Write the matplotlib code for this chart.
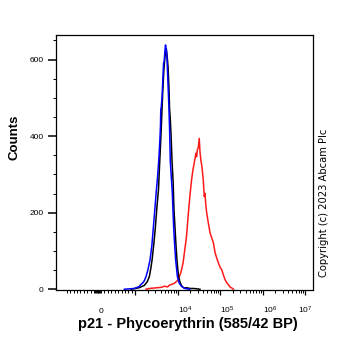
import numpy as np
import matplotlib.pyplot as plt
from matplotlib.transforms import ScaledTranslation

plt.rcParams['font.family'] = 'Liberation Sans'
plt.rcParams['mathtext.fontset'] = 'custom'
plt.rcParams['mathtext.rm'] = 'Liberation Sans'
plt.rcParams['mathtext.it'] = 'Liberation Sans:italic'
plt.rcParams['mathtext.bf'] = 'Liberation Sans:bold'

# intenzita PE kanalu v log10 jednotkach a pocty udalosti
blue_log = [2.836, 2.987, 3.048, 3.095, 3.131, 3.174, 3.214, 3.255, 3.298, 3.350,
            3.393, 3.429, 3.464, 3.493, 3.524, 3.555, 3.579, 3.595, 3.602, 3.612,
            3.631, 3.650, 3.667, 3.683, 3.698, 3.714, 3.731, 3.745, 3.769, 3.793,
            3.810, 3.826, 3.840, 3.874, 3.905, 3.929, 3.952, 3.993, 4.036, 4.088,
            4.167, 4.286]
blue_counts = [0, 2, 5, 7, 12, 16, 22, 33, 50, 77,
               115, 163, 210, 251, 290, 337, 385, 425, 470, 474,
               500, 545, 590, 595, 620, 638, 625, 610, 546, 477,
               416, 335, 310, 251, 163, 115, 77, 33, 16, 8,
               2, 0]

black_log = [2.947, 3.095, 3.214, 3.286, 3.333, 3.369, 3.398, 3.440, 3.476, 3.512,
             3.548, 3.579, 3.602, 3.626, 3.650, 3.674, 3.698, 3.719, 3.733, 3.755,
             3.774, 3.793, 3.810, 3.826, 3.845, 3.869, 3.893, 3.912, 3.936, 3.960,
             3.983, 4.005, 4.024, 4.055, 4.088, 4.119, 4.167, 4.214, 4.286, 4.381,
             4.524]
black_counts = [0, 4, 10, 20, 33, 55, 77, 120, 163, 215,
                260, 337, 390, 455, 520, 570, 605, 620, 628, 605,
                580, 530, 470, 445, 400, 330, 280, 210, 163, 115,
                77, 50, 33, 18, 10, 5, 3, 4, 2, 2,
                0]

red_log = [3.255, 3.333, 3.429, 3.524, 3.619, 3.690, 3.762, 3.810, 3.869, 3.929,
           4.007, 4.071, 4.126, 4.167, 4.207, 4.245, 4.286, 4.326, 4.357, 4.388,
           4.405, 4.429, 4.445, 4.464, 4.483, 4.507, 4.524, 4.548, 4.571, 4.602,
           4.626, 4.643, 4.662, 4.683, 4.721, 4.762, 4.798, 4.840, 4.881, 4.917,
           4.960, 5.000, 5.040, 5.079, 5.119, 5.160, 5.198, 5.238, 5.279, 5.310]
red_counts = [0, 2, 3, 4, 5, 8, 6, 11, 13, 16,
              24, 42, 68, 103, 137, 190, 242, 285, 310, 329,
              340, 355, 346, 365, 369, 394, 360, 335, 320, 285,
              242, 250, 220, 199, 173, 147, 135, 121, 95, 82,
              68, 57, 50, 36, 24, 16, 11, 5, 3, 0]

x_major = [0, 1e4, 1e5, 1e6, 1e7]
x_labels = ['0', '$10^{4}$', '$10^{5}$', '$10^{6}$', '$10^{7}$']

fig = plt.figure(figsize=(3.62, 3.51), dpi=100)
ax = fig.add_axes([56 / 362, 1 - 290 / 351, 256.5 / 362, 255 / 351])

ax.plot(10 ** np.array(red_log), red_counts, color='#ff1a1a', lw=1.1)
ax.plot(10 ** np.array(black_log), black_counts, color='black', lw=1.1)
ax.plot(10 ** np.array(blue_log), blue_counts, color='#0000ff', lw=1.1)

# logicle osa -> priblizne pres symlog
ax.set_xscale('symlog', linthresh=1000, linscale=0.724)
ax.set_xlim(-1795, 1.486e7)
ax.set_ylim(-2, 664)

# ticky na ose x
minor_x = list(np.arange(-1000, 1001, 100)) + [-175, -150, -125, -75, -50, -25]
for d in range(3, 7):
    minor_x += [k * 10 ** d for k in range(2, 10)]
ax.set_xticks([1e3] + x_major[1:])
ax.set_xticks(minor_x, minor=True)
ax.set_xticklabels([])
ax.tick_params(axis='x', which='major', length=3.8, width=0.9, direction='out')
ax.tick_params(axis='x', which='minor', length=2.2, width=0.7, direction='out')

lab_y = -(313 - 290) / 255
trans = ax.get_xaxis_transform()
for val, lab in zip(x_major, x_labels):
    if val == 0:
        ax.text(val, lab_y, lab, transform=trans, ha='center', va='baseline', fontsize=6)
    elif val == 1e7:
        off = trans + ScaledTranslation(-7 / 100, 0, fig.dpi_scale_trans)
        ax.text(val, lab_y, lab, transform=off, ha='left', va='baseline', fontsize=6)
    else:
        ax.text(val, lab_y, lab, transform=trans, ha='left', va='baseline', fontsize=6)

# ticky na ose y
ax.set_yticks([0, 200, 400, 600])
ax.set_yticks(np.arange(50, 664, 50), minor=True)
ax.tick_params(axis='y', which='major', length=5.5, width=1.1, pad=3.5, labelsize=6)
ax.tick_params(axis='y', which='minor', length=2, width=0.7)

for s in ax.spines.values():
    s.set_linewidth(0.9)

fig.text(15 / 362, 1 - 137.5 / 351, 'Counts', rotation=90, fontsize=9.5,
         fontweight='bold', ha='center', va='center')
fig.text(187.5 / 362, 1 - 324 / 351, 'p21 - Phycoerythrin (585/42 BP)', fontsize=10.5,
         fontweight='bold', ha='center', va='center')
fig.text(324 / 362, 1 - 203 / 351, 'Copyright (c) 2023 Abcam Plc', rotation=90,
         fontsize=7.2, family='DejaVu Sans', ha='center', va='center')

fig.savefig('out.png', dpi=100)
